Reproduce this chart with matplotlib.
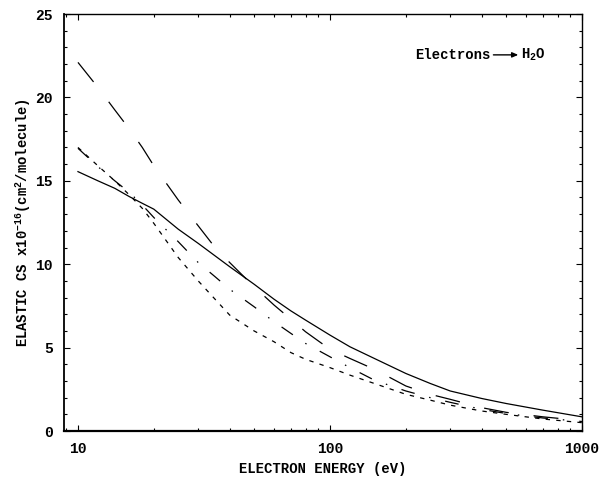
import matplotlib
matplotlib.use("Agg")
import matplotlib.pyplot as plt
from matplotlib.ticker import LogLocator, FixedLocator, MultipleLocator, NullFormatter

# --- data: elastic cross sections, e- on H2O (units of 1e-16 cm^2) ---
energy = [10, 12, 14, 16, 18, 20, 25, 30, 35, 40, 50, 60, 70, 80, 100,
          120, 150, 200, 250, 300, 400, 500, 700, 1000]
cs_solid = [15.55, 15.0, 14.55, 14.05, 13.65, 13.3, 12.1, 11.25, 10.5, 9.85, 8.8, 7.9,
            7.2, 6.65, 5.75, 5.05, 4.35, 3.45, 2.85, 2.4, 1.95, 1.65, 1.25, 0.85]
cs_longdash = [22.1, 20.6, 19.25, 18.1, 17.0, 15.9, 13.85, 12.3, 11.0, 10.1, 8.65, 7.55,
               6.7, 5.95, 4.9, 4.35, 3.7, 2.7, 2.2, 1.9, 1.4, 1.12, 0.85, 0.62]
cs_dashdot = [16.95, 15.85, 15.0, 14.3, 13.55, 12.8, 11.35, 10.1, 9.25, 8.5, 7.45, 6.55,
              5.85, 5.25, 4.45, 3.8, 3.05, 2.4, 2.0, 1.72, 1.3, 1.05, 0.78, 0.57]
cs_shortdash = [17.0, 15.9, 15.0, 14.15, 13.35, 12.45, 10.4, 9.0, 7.9, 6.95, 6.0, 5.35,
                4.7, 4.3, 3.8, 3.35, 2.85, 2.2, 1.85, 1.55, 1.2, 1.0, 0.72, 0.5]

plt.rcParams["font.family"] = ["Liberation Mono", "DejaVu Sans"]
plt.rcParams["font.weight"] = "bold"
plt.rcParams["mathtext.fontset"] = "custom"
plt.rcParams["mathtext.rm"] = "Liberation Mono:bold"
plt.rcParams["mathtext.default"] = "rm"

fig = plt.figure(figsize=(5.99, 4.78), dpi=100)
ax = fig.add_axes([0.1068, 0.0983, 0.8648, 0.8724])

lw = 0.9
ax.plot(energy, cs_solid, color="black", lw=lw, ls="-")
ax.plot(energy, cs_longdash, color="black", lw=lw, ls=(0, (20, 20)))
ax.plot(energy, cs_dashdot, color="black", lw=lw, ls=(0, (11, 12, 1.2, 12)))
ax.plot(energy, cs_shortdash, color="black", lw=lw, ls=(0, (3.5, 5)))

ax.set_xscale("log")
ax.set_xlim(8.8, 1000)
ax.set_ylim(0, 25)

ax.xaxis.set_major_locator(FixedLocator([10, 100, 1000]))
ax.xaxis.set_minor_locator(LogLocator(base=10, subs=range(2, 10)))
ax.xaxis.set_minor_formatter(NullFormatter())
ax.set_xticklabels(["10", "100", "1000"])
ax.yaxis.set_major_locator(MultipleLocator(5))
ax.yaxis.set_minor_locator(MultipleLocator(1))

ax.tick_params(which="both", direction="in", top=True, right=True, width=0.8)
ax.tick_params(which="major", length=4, labelsize=10.5, pad=8)
ax.tick_params(which="minor", length=2.5)
for lab in ax.get_xticklabels() + ax.get_yticklabels():
    lab.set_fontweight("bold")

for sp in ax.spines.values():
    sp.set_linewidth(1.0)
ax.spines["bottom"].set_linewidth(1.6)
ax.spines["left"].set_linewidth(1.3)

ax.set_xlabel("ELECTRON ENERGY (eV)", fontsize=10, fontweight="bold", labelpad=4)
ax.set_ylabel(r"ELASTIC CS x10$^{-16}$(cm$^2$/molecule)", fontsize=10,
              fontweight="bold", labelpad=2)

# reaction label: Electrons -> H2O
ty = 0.902
ax.text(0.678, ty, "Electrons", transform=ax.transAxes, fontsize=10,
        fontweight="bold", ha="left", va="center")
ax.annotate("", xy=(0.877, ty), xytext=(0.829, ty),
            xycoords="axes fraction", textcoords="axes fraction",
            arrowprops=dict(arrowstyle="-|>,head_length=0.35,head_width=0.15",
                            color="black", lw=1.0, shrinkA=0, shrinkB=0))
ax.text(0.882, ty, r"H$_2$O", transform=ax.transAxes, fontsize=10,
        fontweight="bold", ha="left", va="center")

fig.savefig("out.png", dpi=100)
